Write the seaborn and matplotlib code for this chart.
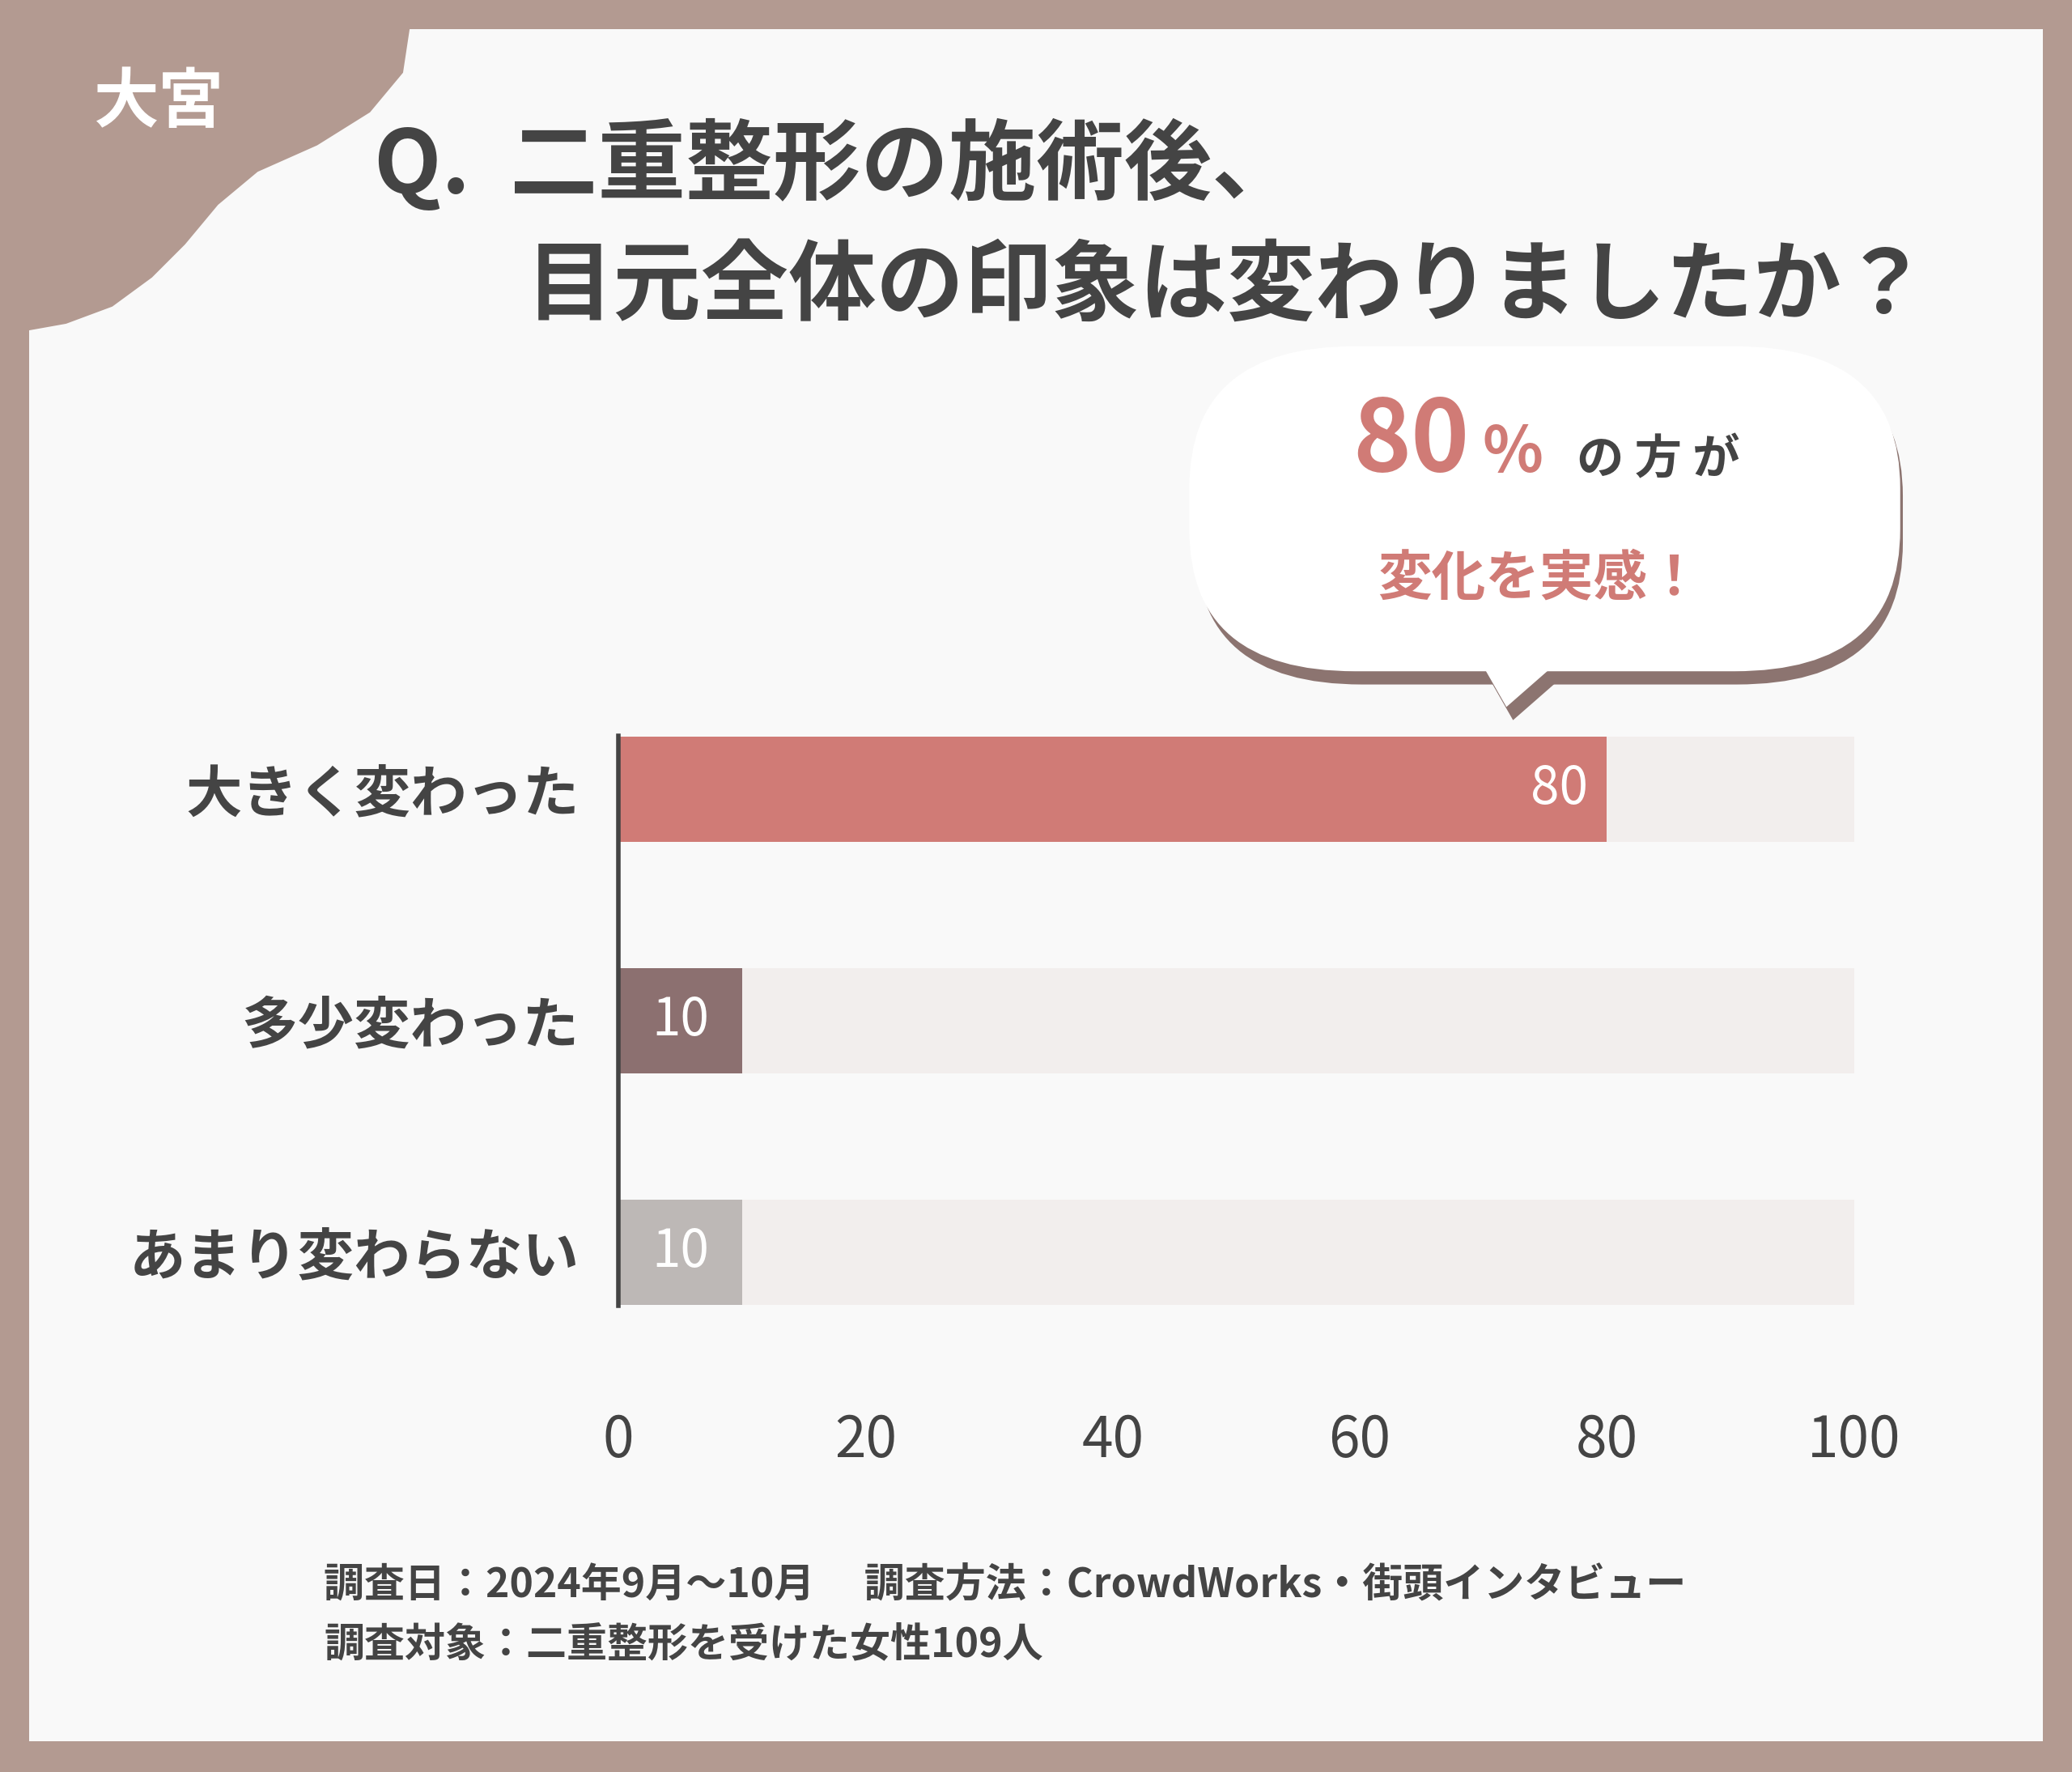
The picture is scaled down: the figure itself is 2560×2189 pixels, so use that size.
import matplotlib
matplotlib.use("Agg")
import matplotlib.pyplot as plt
import seaborn as sns
import pandas as pd
from matplotlib.patches import FancyBboxPatch, Polygon, Rectangle

categories = ["大きく変わった", "多少変わった", "あまり変わらない"]
values = [80, 10, 10]
totals = [100, 100, 100]
bar_colors = ["#d07b76", "#8c7070", "#bdb8b6"]
xticks = [0, 20, 40, 60, 80, 100]

FONT = "Noto Sans CJK JP"
plt.rcParams["font.family"] = FONT

W, H = 1568, 1341
fig = plt.figure(figsize=(25.6, 21.89), dpi=100)
fig.patch.set_facecolor("#b39a91")

def fx(x): return x / W
def fy(y): return 1 - y / H

fig.patches.append(Rectangle((fx(22), fy(1318)), fx(1546) - fx(22), fy(22) - fy(1318),
                             transform=fig.transFigure, facecolor="#f9f9f9", edgecolor="none", zorder=-2))
blob = [(22, 22), (310, 22), (305, 55), (280, 85), (240, 110), (195, 130), (165, 155),
        (140, 185), (115, 210), (85, 232), (50, 245), (22, 250)]
fig.patches.append(Polygon([(fx(a), fy(b)) for a, b in blob], closed=True, transform=fig.transFigure,
                           facecolor="#b39a91", edgecolor="none", zorder=-1))
fig.text(fx(120), fy(78), "大宮", color="white", fontsize=58, fontweight="bold", ha="center", va="center")

fig.text(fx(283), fy(125), "Q.  二重整形の施術後、", color="#444444", fontsize=78, fontweight="bold", va="center")
fig.text(fx(398), fy(218), "目元全体の印象は変わりましたか？", color="#444444", fontsize=78, fontweight="bold", va="center")

shadow = FancyBboxPatch((fx(905), fy(518)), fx(1440) - fx(905), fy(268) - fy(518),
                        boxstyle="round,pad=0,rounding_size=0.08", transform=fig.transFigure,
                        facecolor="#8c7470", edgecolor="none", zorder=2)
fig.patches.append(shadow)
fig.patches.append(Polygon([(fx(1125), fy(510)), (fx(1145), fy(545)), (fx(1185), fy(510))],
                           transform=fig.transFigure, facecolor="#8c7470", edgecolor="none", zorder=2))
fig.patches.append(FancyBboxPatch((fx(900), fy(508)), fx(1438) - fx(900), fy(262) - fy(508),
                     boxstyle="round,pad=0,rounding_size=0.08", transform=fig.transFigure,
                     facecolor="white", edgecolor="none", zorder=3))
fig.patches.append(Polygon([(fx(1120), fy(500)), (fx(1140), fy(535)), (fx(1180), fy(500))],
                           transform=fig.transFigure, facecolor="white", edgecolor="none", zorder=3))
fig.text(fx(1068), fy(335), "80", color="#d07b76", fontsize=88, fontweight="bold", ha="center", va="center", zorder=4)
fig.text(fx(1145), fy(343), "%", color="#d07b76", fontsize=56, fontweight="bold", ha="center", va="center", zorder=4)
fig.text(fx(1255), fy(348), "の 方 が", color="#444444", fontsize=42, fontweight="bold", ha="center", va="center", zorder=4)
fig.text(fx(1165), fy(438), "変化を実感！", color="#d07b76", fontsize=48, fontweight="bold", ha="center", va="center", zorder=4)

ax = fig.add_axes([fx(468), fy(1009), fx(1403) - fx(468), fy(536) - fy(1009)])
ax.set_zorder(5)
ax.set_facecolor("none")
df = pd.DataFrame({"cat": categories, "val": values, "tot": totals})
sns.barplot(data=df, y="cat", x="tot", orient="h", color="#f2eeed", saturation=1, width=0.456, ax=ax, zorder=1)
sns.barplot(data=df, y="cat", x="val", orient="h", hue="cat", palette=bar_colors, saturation=1, legend=False,
            width=0.456, ax=ax, zorder=2)
for i, v in enumerate(values):
    ax.text(v - 1.5 if v > 20 else v - 5.0, i, str(v), color="white", fontsize=46,
            ha="right" if v > 20 else "center", va="center", zorder=3)
ax.set_xlim(0, 100)
ax.set_ylim(2.35, -0.35)
ax.set_xticks(xticks)
ax.set_xticklabels([str(t) for t in xticks])
ax.tick_params(axis="x", length=0, labelsize=50, labelcolor="#444444", pad=70)
ax.tick_params(axis="y", length=0, labelsize=50, labelcolor="#444444", pad=35)
for lab in ax.get_yticklabels():
    lab.set_fontweight("bold")
ax.set_xlabel("")
ax.set_ylabel("")
for s in ["top", "right", "bottom"]:
    ax.spines[s].set_visible(False)
ax.spines["left"].set_linewidth(4)
ax.spines["left"].set_color("#444444")
ax.spines["left"].set_bounds(-0.23, 2.23)

fig.text(fx(245), fy(1200), "調査日：2024年9月～10月　 調査方法：CrowdWorks・街頭インタビュー",
         color="#444444", fontsize=36, fontweight="bold", va="center")
fig.text(fx(245), fy(1245), "調査対象：二重整形を受けた女性109人",
         color="#444444", fontsize=36, fontweight="bold", va="center")

fig.savefig("out.png", dpi=100, facecolor=fig.get_facecolor())
